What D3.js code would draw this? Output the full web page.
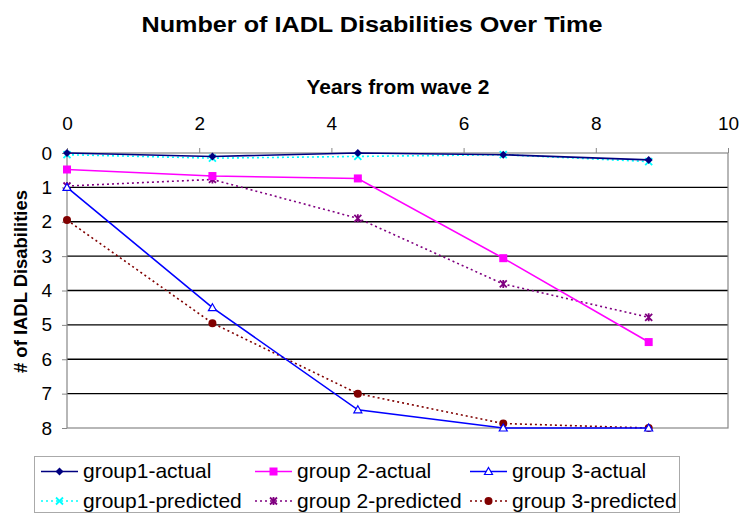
<!DOCTYPE html>
<html><head><meta charset="utf-8">
<script src="https://cdn.jsdelivr.net/npm/d3@7"></script>
<style>body{margin:0;background:#fff}svg{display:block}text{font-family:"Liberation Sans",Arial,sans-serif}</style>
</head><body>
<script>
const years = [0, 2.2, 4.4, 6.6, 8.8];
const g1Actual = [0.0, 0.1, 0.0, 0.05, 0.2];
const g1Pred = [0.05, 0.15, 0.1, 0.05, 0.25];
const g2Actual = [0.48, 0.67, 0.74, 3.06, 5.5];
const g2Pred = [0.96, 0.77, 1.9, 3.81, 4.78];
const g3Actual = [1.0, 4.5, 7.47, 8.0, 8.0];
const g3Pred = [1.95, 4.95, 7.0, 7.87, 8.0];
const xTicks = [0, 2, 4, 6, 8, 10];
const yTicks = [0, 1, 2, 3, 4, 5, 6, 7, 8];
const seriesNames = ["group1-actual","group 2-actual","group 3-actual","group1-predicted","group 2-predicted","group 3-predicted"];

const series = [
  {name:seriesNames[0], vals:g1Actual, color:"#000080", dash:null, marker:"diamond"},
  {name:seriesNames[1], vals:g2Actual, color:"#FF00FF", dash:null, marker:"square"},
  {name:seriesNames[2], vals:g3Actual, color:"#0000FF", dash:null, marker:"triangle"},
  {name:seriesNames[3], vals:g1Pred, color:"#00FFFF", dash:"2,3", marker:"x"},
  {name:seriesNames[4], vals:g2Pred, color:"#800080", dash:"2,3", marker:"star"},
  {name:seriesNames[5], vals:g3Pred, color:"#800000", dash:"2,3", marker:"circle"}
];

const W=745,H=518;
const svg=d3.select("body").append("svg").attr("width",W).attr("height",H);
const x=d3.scaleLinear().domain([0,10]).range([67,728]);
const y=d3.scaleLinear().domain([0,8]).range([153,428]);

svg.append("text").attr("x",372).attr("y",32).attr("text-anchor","middle")
  .attr("font-size",22).attr("font-weight","bold").attr("textLength",461).attr("lengthAdjust","spacingAndGlyphs")
  .text("Number of IADL Disabilities Over Time");
svg.append("text").attr("x",398).attr("y",94).attr("text-anchor","middle")
  .attr("font-size",20).attr("font-weight","bold").attr("textLength",183).attr("lengthAdjust","spacingAndGlyphs")
  .text("Years from wave 2");
svg.append("text").attr("transform","translate(27,281.5) rotate(-90)").attr("text-anchor","middle")
  .attr("font-size",18).attr("font-weight","bold").attr("textLength",183).attr("lengthAdjust","spacingAndGlyphs")
  .text("# of IADL Disabilities");

// gridlines
svg.append("g").selectAll("line").data(yTicks.filter(d=>d>0&&d<8)).join("line")
  .attr("x1",x(0)).attr("x2",x(10)).attr("y1",d=>y(d)).attr("y2",d=>y(d))
  .attr("stroke","#000").attr("stroke-width",1.3);
// plot border
svg.append("rect").attr("x",x(0)).attr("y",y(0)).attr("width",x(10)-x(0)).attr("height",y(8)-y(0))
  .attr("fill","none").attr("stroke","#888").attr("stroke-width",1.2);

const xAxis=d3.axisTop(x).tickValues(xTicks).tickSize(5).tickPadding(18).tickFormat(d3.format("d"));
const gx=svg.append("g").attr("transform",`translate(0,${y(0)})`).call(xAxis);
gx.select(".domain").remove();
gx.selectAll("line").attr("stroke","#888");
gx.selectAll("text").attr("font-size",19).attr("fill","#000").style("font-family","Liberation Sans, Arial, sans-serif");

const yAxis=d3.axisLeft(y).tickValues(yTicks).tickSize(5).tickPadding(10).tickFormat(d3.format("d"));
const gy=svg.append("g").attr("transform",`translate(${x(0)},0)`).call(yAxis);
gy.select(".domain").remove();
gy.selectAll("line").attr("stroke","#888");
gy.selectAll("text").attr("font-size",19).attr("fill","#000").style("font-family","Liberation Sans, Arial, sans-serif");

function drawMarker(g,type,cx,cy,color){
  if(type==="diamond"){
    g.append("path").attr("d",`M${cx},${cy-4}L${cx+4},${cy}L${cx},${cy+4}L${cx-4},${cy}Z`).attr("fill",color);
  } else if(type==="square"){
    g.append("rect").attr("x",cx-4).attr("y",cy-4).attr("width",8).attr("height",8).attr("fill",color);
  } else if(type==="triangle"){
    g.append("path").attr("d",`M${cx},${cy-4}L${cx+4},${cy+3}L${cx-4},${cy+3}Z`).attr("fill","#fff").attr("stroke",color).attr("stroke-width",1.2);
  } else if(type==="x"){
    g.append("path").attr("d",`M${cx-3.5},${cy-3.5}L${cx+3.5},${cy+3.5}M${cx-3.5},${cy+3.5}L${cx+3.5},${cy-3.5}`).attr("stroke",color).attr("stroke-width",1.8);
  } else if(type==="star"){
    g.append("path").attr("d",`M${cx-3.5},${cy-3.5}L${cx+3.5},${cy+3.5}M${cx-3.5},${cy+3.5}L${cx+3.5},${cy-3.5}M${cx},${cy-4}L${cx},${cy+4}`).attr("stroke",color).attr("stroke-width",1.8);
  } else if(type==="circle"){
    g.append("circle").attr("cx",cx).attr("cy",cy).attr("r",4).attr("fill",color);
  }
}

const line=d3.line().x((d,i)=>x(years[i])).y(d=>y(d));
const order=[3,4,5,0,1,2];
order.forEach(k=>{
  const s=series[k];
  const g=svg.append("g");
  g.append("path").datum(s.vals).attr("d",line).attr("fill","none").attr("stroke",s.color)
   .attr("stroke-width",1.6).attr("stroke-dasharray",s.dash);
  s.vals.forEach((v,i)=>drawMarker(g,s.marker,x(years[i]),y(v),s.color));
});

// legend
const leg=svg.append("g");
leg.append("rect").attr("x",34.5).attr("y",456.5).attr("width",645).attr("height",56).attr("fill","#fff").attr("stroke","#aaa");
const colX=[41,255,470];
const rowY=[471.5,501];
series.forEach((s,i)=>{
  const cx=colX[i%3], cy=rowY[Math.floor(i/3)];
  const g=leg.append("g");
  g.append("line").attr("x1",cx).attr("x2",cx+37).attr("y1",cy).attr("y2",cy).attr("stroke",s.color)
   .attr("stroke-width",1.6).attr("stroke-dasharray",s.dash);
  drawMarker(g,s.marker,cx+18.5,cy,s.color);
  g.append("text").attr("x",cx+42).attr("y",cy+6.5).attr("font-size",21).text(s.name);
});
</script>
</body></html>
